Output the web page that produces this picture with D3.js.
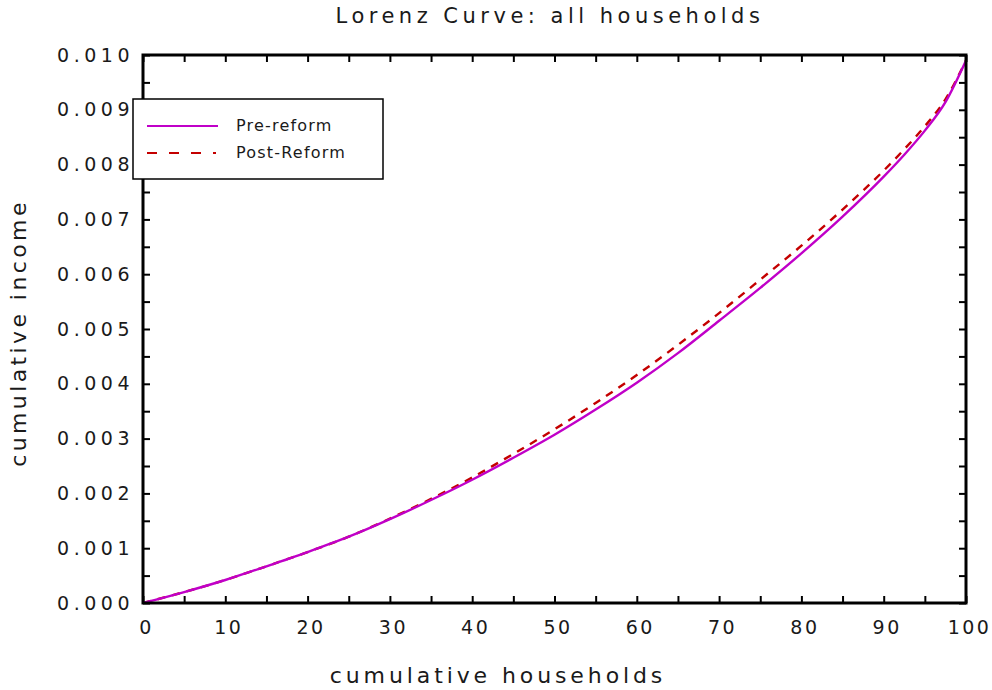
<!DOCTYPE html>
<html><head><meta charset="utf-8">
<script src="https://cdn.jsdelivr.net/npm/d3@7"></script>
<style>
html,body{margin:0;padding:0;background:#fff;}
text{font-family:"DejaVu Sans",sans-serif;fill:#1a1a1a;}
</style></head>
<body><svg id="c" width="992" height="690"></svg>
<script>
const title = "Lorenz Curve: all households";
const xLabel = "cumulative households";
const yLabel = "cumulative income";
const seriesNames = ["Pre-reform", "Post-Reform"];
const households = [0,5,10,15,20,25,30,35,40,45,50,55,60,65,70,75,80,85,90,92.5,95,97.5,100];
const preReform  = [0,0.00020,0.00042,0.00067,0.00093,0.00121,0.00153,0.00188,0.00225,0.00265,0.00307,0.00353,0.00402,0.00456,0.00515,0.00575,0.00638,0.00705,0.00778,0.00818,0.00862,0.00914,0.00990];
const postReform = [0,0.00020,0.00042,0.00067,0.00093,0.00121,0.00154,0.00190,0.00229,0.00272,0.00317,0.00365,0.00416,0.00471,0.00529,0.00590,0.00652,0.00718,0.00789,0.00828,0.00870,0.00919,0.00990];
const xTicks = d3.range(0, 101, 5);
const yTicks = d3.range(0, 0.01001, 0.0005);

const svg = d3.select("#c");
const L = 143, R = 966, T = 55, B = 603;
const x = d3.scaleLinear().domain([0, 100]).range([L, R]);
const y = d3.scaleLinear().domain([0, 0.01]).range([B, T]);

const isMajorX = d => Math.abs(d % 10) < 1e-9;
const isMajorY = d => Math.abs(Math.round(d * 1000) - d * 1000) < 1e-9;

function styleAxis(g) {
  g.select(".domain").remove();
  g.selectAll(".tick line").attr("stroke", "#000").attr("stroke-width", 2);
}

svg.append("g").attr("transform", `translate(0,${B})`)
  .call(d3.axisBottom(x).tickValues(xTicks).tickSize(-7).tickPadding(20)
    .tickFormat(d => isMajorX(d) ? d3.format("d")(d) : ""))
  .call(styleAxis)
  .call(g => g.selectAll(".tick text").attr("font-size", 19).attr("letter-spacing", "2.5px")
    .attr("dx", 3).attr("dy", "0.9em").attr("y", 14));
svg.append("g").attr("transform", `translate(0,${T})`)
  .call(d3.axisTop(x).tickValues(xTicks).tickSize(-7).tickFormat(""))
  .call(styleAxis);
svg.append("g").attr("transform", `translate(${L},0)`)
  .call(d3.axisLeft(y).tickValues(yTicks).tickSize(-7).tickPadding(9)
    .tickFormat(d => isMajorY(d) ? d3.format(".3f")(d) : ""))
  .call(styleAxis)
  .call(g => g.selectAll(".tick text").attr("font-size", 19).attr("letter-spacing", "4.5px"));
svg.append("g").attr("transform", `translate(${R},0)`)
  .call(d3.axisRight(y).tickValues(yTicks).tickSize(-7).tickFormat(""))
  .call(styleAxis);

const line = d3.line().x((d, i) => x(households[i])).y(d => y(d)).curve(d3.curveMonotoneX);
svg.append("path").datum(postReform).attr("d", line)
  .attr("fill", "none").attr("stroke", "#c40000").attr("stroke-width", 2.4)
  .attr("stroke-dasharray", "8,7");
svg.append("path").datum(preReform).attr("d", line)
  .attr("fill", "none").attr("stroke", "#c000c8").attr("stroke-width", 2.4);

svg.append("rect").attr("x", L).attr("y", T).attr("width", R - L).attr("height", B - T)
  .attr("fill", "none").attr("stroke", "#000").attr("stroke-width", 3);

const lg = svg.append("g");
lg.append("rect").attr("x", 133).attr("y", 99).attr("width", 250).attr("height", 80)
  .attr("fill", "#fff").attr("stroke", "#000").attr("stroke-width", 1.5);
const colors = ["#c000c8", "#c40000"];
const dashes = [null, "10,12"];
seriesNames.forEach((n, i) => {
  const yy = 126 + i * 27;
  lg.append("line").attr("x1", 147).attr("x2", i ? 216 : 218).attr("y1", yy).attr("y2", yy)
    .attr("stroke", colors[i]).attr("stroke-width", 2).attr("stroke-dasharray", dashes[i]);
  lg.append("text").attr("x", 236).attr("y", yy + 5).attr("font-size", 16)
    .attr("letter-spacing", "1.2px").text(n);
});

svg.append("text").attr("x", 550).attr("y", 23).attr("text-anchor", "middle")
  .attr("font-size", 21).attr("letter-spacing", "4.5px").text(title);
svg.append("text").attr("x", 498).attr("y", 683).attr("text-anchor", "middle")
  .attr("font-size", 22).attr("letter-spacing", "3.9px").text(xLabel);
svg.append("text").attr("transform", "translate(26,333) rotate(-90)").attr("text-anchor", "middle")
  .attr("font-size", 22).attr("letter-spacing", "3.4px").text(yLabel);
</script></body></html>
